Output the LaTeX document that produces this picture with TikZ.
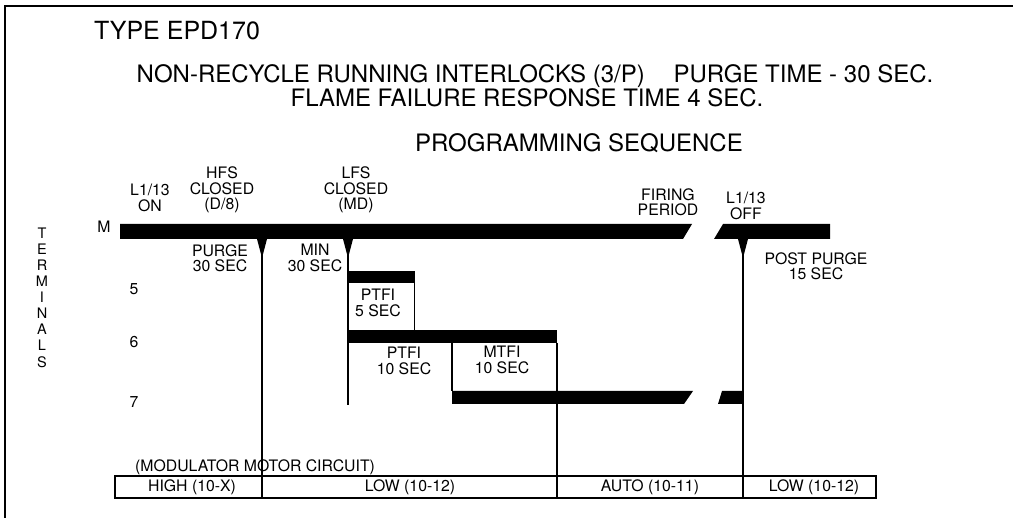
\documentclass[tikz,border=0pt]{standalone}
\usepackage{fontspec}
\setmainfont{TeX Gyre Heros}
\begin{document}
\begin{tikzpicture}[x=1pt,y=-1pt,
  title/.style={font=\fontsize{24}{28}\selectfont, inner sep=0pt},
  lbl/.style={font=\fontsize{15.8}{15.5}\selectfont, align=center, inner sep=0pt},
  cell/.style={font=\fontsize{15.8}{16}\selectfont, inner sep=0pt},
  thin/.style={line width=1.2pt},
  bar/.style={fill=black}]
\useasboundingbox (0,0) rectangle (1013,518);
% frame
\draw[line width=1.5pt] (5,518) -- (5,6) -- (1013,6);
% titles
\node[title, font=\fontsize{25}{28}\selectfont] (t1) at (177,31) {TYPE EPD170};
\node[title] (t2) at (535,76) {NON-RECYCLE RUNNING INTERLOCKS (3/P)\hspace{1.2em}PURGE TIME - 30 SEC.};
\node[title] (t3) at (527,98) {FLAME FAILURE RESPONSE TIME 4 SEC.};
\node[title] (t4) at (579,143) {PROGRAMMING SEQUENCE};
% event labels
\node[lbl] (on) at (150,198) {L1/13\\ON};
\node[lbl] (hfs) at (222,190) {HFS\\CLOSED\\(D/8)};
\node[lbl] (lfs) at (356,190) {LFS\\CLOSED\\(MD)};
\node[lbl] (fire) at (668,202) {FIRING\\PERIOD};
\node[lbl] (off) at (746,206) {L1/13\\OFF};
% terminal labels
\node[lbl, font=\fontsize{14.5}{16.1}\selectfont] (term) at (42,297.5) {T\\E\\R\\M\\I\\N\\A\\L\\S};
\node[lbl] (tm) at (104,227) {M};
\node[lbl] (t5) at (134,289) {5};
\node[lbl] (t6) at (134,342) {6};
\node[lbl] (t7) at (134,402) {7};
% bars
\fill[bar] (120,224) -- (692,224) -- (683,239) -- (120,239) -- cycle;
\fill[bar] (723,224) -- (830,224) -- (830,239) -- (714,239) -- cycle;
\fill[bar] (348,271) rectangle (415,283);
\fill[bar] (348,330) rectangle (557,343);
\fill[bar] (452,391) -- (693,391) -- (684,404) -- (452,404) -- cycle;
\fill[bar] (722,391) -- (743,391) -- (743,404) -- (718,404) -- cycle;
% markers
\fill (257,239) -- (267,239) -- (262,258) -- cycle;
\fill (343,239) -- (353,239) -- (348,258) -- cycle;
\fill (738,239) -- (748,239) -- (743,258) -- cycle;
% vertical lines
\draw[thin] (262,239) -- (262,498);
\draw[thin] (348,239) -- (348,405);
\draw[thin] (414.5,283) -- (414.5,330);
\draw[thin] (452,343) -- (452,391);
\draw[thin] (557,343) -- (557,498);
\draw[thin] (743,239) -- (743,498);
% interval labels
\node[lbl] (purge) at (220,258) {PURGE\\30 SEC};
\node[lbl] (min) at (315,258) {MIN\\30 SEC};
\node[lbl] (ptfi5) at (378,303) {PTFI\\5 SEC};
\node[lbl] (ptfi10) at (404,361) {PTFI\\10 SEC};
\node[lbl] (mtfi) at (502,360) {MTFI\\10 SEC};
\node[lbl] (post) at (816,266) {POST PURGE\\15 SEC};
% modulator
\node[lbl, anchor=west] (mod) at (135,467) {(MODULATOR MOTOR CIRCUIT)};
\draw[thin] (115,476) rectangle (876,498);
\node[cell] (c1) at (192,487) {HIGH (10-X)};
\node[cell] (c2) at (410,487) {LOW (10-12)};
\node[cell] (c3) at (650,487) {AUTO (10-11)};
\node[cell] (c4) at (814,487) {LOW (10-12)};
\end{tikzpicture}
\end{document}
